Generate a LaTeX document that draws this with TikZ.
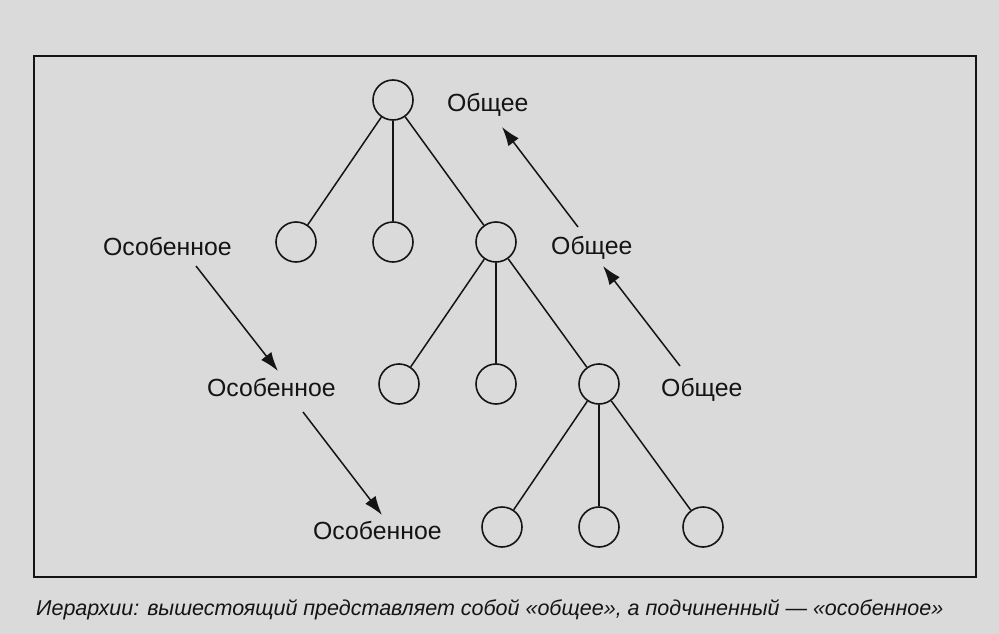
\documentclass[tikz,border=0pt]{standalone}
\usepackage{fontspec}
\setmainfont{Liberation Sans}
\usetikzlibrary{arrows.meta}
\definecolor{bg}{RGB}{218,218,218}
\definecolor{ink}{RGB}{20,20,20}
\tikzset{
  circ/.style={circle,draw=ink,line width=1.6pt,minimum size=40pt,inner sep=0pt},
  edge/.style={draw=ink,line width=1.5pt},
  lbl/.style={anchor=base west,inner sep=0pt,text=ink,font=\fontsize{24.8}{28}\selectfont},
  arr/.style={draw=ink,line width=1.5pt,-{Latex[length=19pt,width=13pt]}},
}
\begin{document}
\begin{tikzpicture}[x=1pt,y=-1pt]
\fill[bg] (0,0) rectangle (999,634);
\useasboundingbox (0,0) rectangle (999,634);
\draw[ink,line width=2pt] (34,56) rectangle (976,577);
% tree
\node[circ] (r) at (393,100) {};
\node[circ] (a1) at (296,242) {};
\node[circ] (a2) at (393,242) {};
\node[circ] (a3) at (496,242) {};
\node[circ] (b1) at (399,384) {};
\node[circ] (b2) at (496,384) {};
\node[circ] (b3) at (599,384) {};
\node[circ] (c1) at (502,527) {};
\node[circ] (c2) at (599,527) {};
\node[circ] (c3) at (703,527) {};
\foreach \ch in {a1,a2,a3} \path[edge] (r) -- (\ch);
\foreach \ch in {b1,b2,b3} \path[edge] (a3) -- (\ch);
\foreach \ch in {c1,c2,c3} \path[edge] (b3) -- (\ch);
% labels
\node[lbl] (g1) at (447,111.5) {Общее};
\node[lbl] (g2) at (551,254) {Общее};
\node[lbl] (g3) at (661,396) {Общее};
\node[lbl] (s1) at (103,255) {Особенное};
\node[lbl] (s2) at (207,396) {Особенное};
\node[lbl] (s3) at (313,539) {Особенное};
% arrow ends
\coordinate (g2s) at (578,227);
\coordinate (g1e) at (502,127);
\coordinate (g3s) at (680,366);
\coordinate (g2e) at (603,266);
\coordinate (s1s) at (196,266);
\coordinate (s2e) at (278,371);
\coordinate (s2s) at (303,412);
\coordinate (s3e) at (382,515);
\draw[arr] (g2s) -- (g1e);
\draw[arr] (g3s) -- (g2e);
\draw[arr] (s1s) -- (s2e);
\draw[arr] (s2s) -- (s3e);
% caption
\node[anchor=base west,inner sep=0pt,text=ink,font=\fontsize{21.5}{24}\selectfont\itshape] (cap) at (36,615) {Иерархии: вышестоящий представляет собой «общее», а подчиненный — «особенное»};
\end{tikzpicture}
\end{document}
